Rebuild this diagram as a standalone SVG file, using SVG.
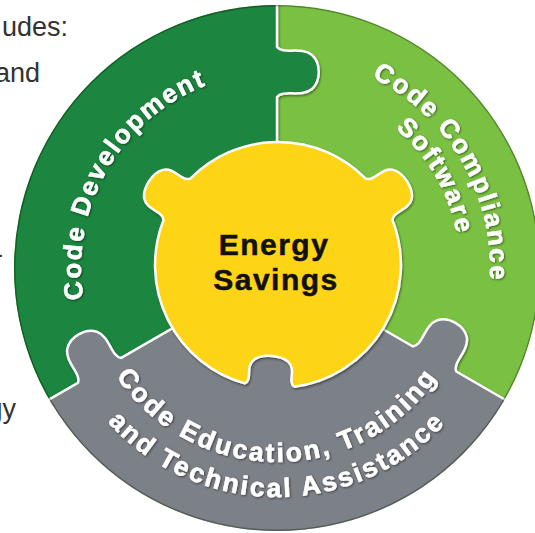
<svg xmlns="http://www.w3.org/2000/svg" width="535" height="533" viewBox="0 0 535 533">
<style>
.side{font-family:"Liberation Sans",Arial,sans-serif;font-size:27px;fill:#333}
.arc{font-family:"Liberation Sans",Arial,sans-serif;font-weight:700;font-size:26px;fill:#fff;stroke:#fff;stroke-width:0.6;letter-spacing:2px}
.edu{font-size:26.5px;letter-spacing:2.5px}
.mid{font-family:"Liberation Sans",Arial,sans-serif;font-weight:700;font-size:30px;fill:#111;stroke:#111;stroke-width:0.5;letter-spacing:1.5px;text-anchor:middle}
.piece{stroke:#fff;stroke-width:2.5;stroke-linejoin:round}
</style>
<defs>
<clipPath id="disk"><circle cx="277" cy="268" r="263"/></clipPath>
<filter id="sh" x="-10%" y="-10%" width="120%" height="120%"><feDropShadow dx="1" dy="1.5" stdDeviation="1" flood-color="#000" flood-opacity="0.45"/></filter>
<filter id="tsh" x="-10%" y="-10%" width="120%" height="120%"><feDropShadow dx="1" dy="1" stdDeviation="0.8" flood-color="#000" flood-opacity="0.5"/></filter>
<path id="pDev" d="M107.3,366 A196,196 0 0 1 277,72"/>
<path id="pComp1" d="M277,55 A213,213 0 0 1 461.5,374.5"/>
<path id="pComp2" d="M277,85 A183,183 0 0 1 435.5,359.5"/>
<path id="pEdu1" d="M109,365 A194,194 0 0 0 445,365"/>
<path id="pEdu2" d="M78.7,382.5 A229,229 0 0 0 475.3,382.5"/>
</defs>
<text class="side" x="68" y="36" text-anchor="end">udes:</text>
<text class="side" x="40" y="82" text-anchor="end">and</text>
<text class="side" x="3" y="263" text-anchor="end">-</text>
<text class="side" x="16" y="418" text-anchor="end">gy</text>
<g clip-path="url(#disk)">
<g id="node-code-compliance">
<circle cx="277" cy="268" r="268" fill="#7ac143"/>
<text class="arc" filter="url(#tsh)"><textPath href="#pComp1" startOffset="50%" text-anchor="middle">Code Compliance</textPath></text>
<text class="arc" filter="url(#tsh)"><textPath href="#pComp2" startOffset="50%" text-anchor="middle">Software</textPath></text>
</g>
<g id="node-code-development">
<path class="piece" filter="url(#sh)" fill="#1e8540" d="M277,268 L44.9,402 A268,268 0 0 1 277,0 L277,47 C283,55 301,46 312,55 C321,63 321,81 312,89 C301,98 283,89 277,97 Z"/>
<text class="arc" filter="url(#tsh)"><textPath href="#pDev" startOffset="50%" text-anchor="middle">Code Development</textPath></text>
</g>
<g id="node-code-education">
<path class="piece" filter="url(#sh)" fill="#7b8087" d="M277,268 L413,346.5 C422.9,345.3 424.1,325.2 437.4,320.2 C448.8,316.4 464.4,325.4 466.8,337.2 C469.1,351.2 452.3,362.3 456.3,371.5 L509.1,402 A268,268 0 0 1 44.9,402 L77.85,383 C81.8,373.8 65,362.7 67.3,348.7 C69.7,336.9 85.3,327.9 96.7,331.7 C110,336.7 111.2,356.8 121.15,358 Z"/>
<text class="arc edu" filter="url(#tsh)"><textPath href="#pEdu1" startOffset="50%" text-anchor="middle">Code Education, Training</textPath></text>
<text class="arc edu" filter="url(#tsh)"><textPath href="#pEdu2" startOffset="50%" text-anchor="middle">and Technical Assistance</textPath></text>
</g>
<g id="node-energy-savings">
<path class="piece" filter="url(#sh)" fill="#fdd516" d="M294.5,386.8 C286.9,382.1 296.7,370.2 288.3,361.9 C280.7,355 262.8,353.7 254.3,359.4 C244.8,366.5 253,379.7 244.7,383.4 A123,123 0 0 1 163.4,220.4 C163.7,211 146.7,210.7 144.2,198.4 C142.6,187.8 152.4,172.7 162.8,169.9 C175.1,167.1 182.2,182.5 190.6,178.4 A123,123 0 0 1 365.4,178.4 C373.8,182.5 380.9,167.1 393.2,169.9 C403.6,172.7 413.4,187.8 411.8,198.4 C409.3,210.7 392.3,211 392.6,220.4 A123,123 0 0 1 294.5,386.8 Z"/>
<text class="mid" x="274" y="255">Energy</text>
<text class="mid" x="276" y="290">Savings</text>
</g>
<circle cx="277" cy="268" r="262.3" fill="none" stroke="#000" stroke-opacity="0.3" stroke-width="1.5"/>
</g>
</svg>
